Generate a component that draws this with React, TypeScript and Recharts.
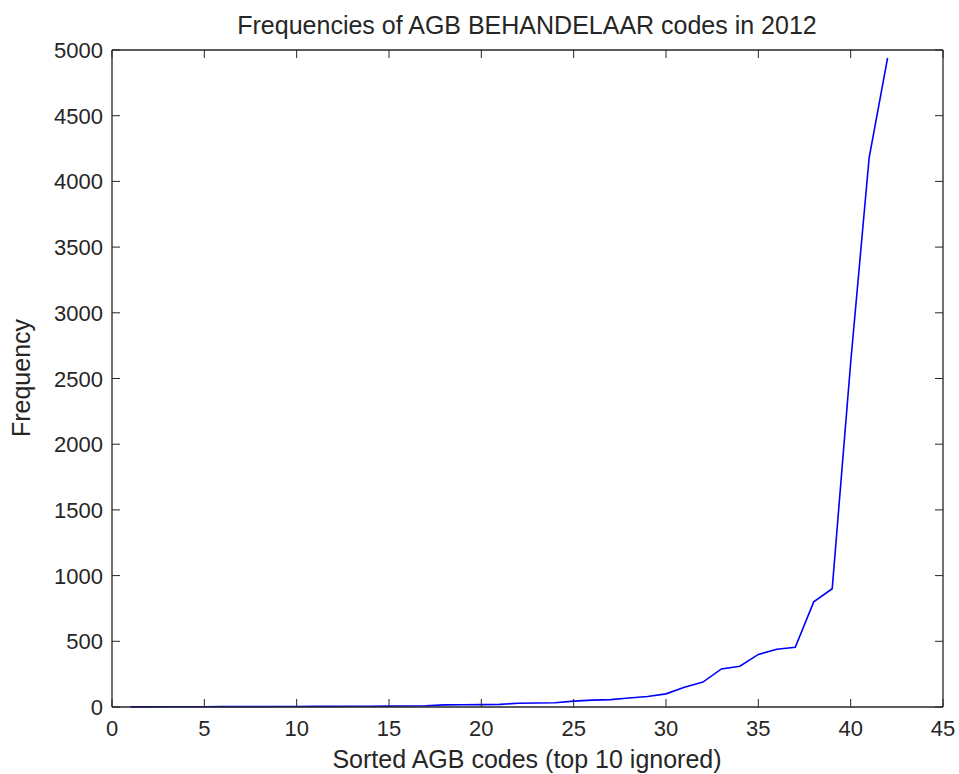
import { LineChart, Line, XAxis, YAxis } from 'recharts';

// sorted code index (top 10 removed) and how often each code occurs
const codeRank = [
  1, 2, 3, 4, 5, 6, 7, 8, 9, 10, 11, 12, 13, 14, 15, 16, 17, 18, 19, 20, 21,
  22, 23, 24, 25, 26, 27, 28, 29, 30, 31, 32, 33, 34, 35, 36, 37, 38, 39, 40, 41, 42,
];
const frequency = [
  1, 1, 2, 2, 2, 3, 3, 3, 4, 4, 5, 5, 6, 6, 7, 8, 9, 16, 17, 18, 20,
  28, 30, 32, 45, 52, 56, 68, 80, 100, 150, 190, 290, 310, 400, 440, 455, 800, 900, 2620, 4180, 4940,
];
const xTicks = [0, 5, 10, 15, 20, 25, 30, 35, 40, 45];
const yTicks = [0, 500, 1000, 1500, 2000, 2500, 3000, 3500, 4000, 4500, 5000];

const data = codeRank.map((rank, i) => ({ rank, freq: frequency[i] }));

const FONT = '"Liberation Sans", Arial, sans-serif';
const AXIS = '#262626';
const TICK_LEN = 8;

const BottomTick = ({ x, y, payload }: any) => (
  <g>
    <line x1={x} x2={x} y1={y} y2={y - TICK_LEN} stroke={AXIS} strokeWidth={1} />
    <text x={x} y={y + 29} textAnchor="middle" fill={AXIS} fontSize={22} fontFamily={FONT}>
      {payload.value}
    </text>
  </g>
);

const TopTick = ({ x, y }: any) => (
  <line x1={x} x2={x} y1={y} y2={y + TICK_LEN} stroke={AXIS} strokeWidth={1} />
);

const LeftTick = ({ x, y, payload }: any) => (
  <g>
    <line x1={x} x2={x + TICK_LEN} y1={y} y2={y} stroke={AXIS} strokeWidth={1} />
    <text x={x - 9} y={y + 8} textAnchor="end" fill={AXIS} fontSize={22} fontFamily={FONT}>
      {payload.value}
    </text>
  </g>
);

const RightTick = ({ x, y }: any) => (
  <line x1={x} x2={x - TICK_LEN} y1={y} y2={y} stroke={AXIS} strokeWidth={1} />
);

export default function App() {
  return (
    <div style={{ position: 'absolute', left: 0, top: 0, width: 959, height: 774, background: '#fff' }}>
      <LineChart
        width={959}
        height={774}
        data={data}
        margin={{ top: 49, right: 15, left: 0, bottom: 0 }}
      >
        <text x={527} y={34} textAnchor="middle" fill={AXIS} fontSize={25} fontFamily={FONT}>
          Frequencies of AGB BEHANDELAAR codes in 2012
        </text>
        <text
          x={30}
          y={378}
          textAnchor="middle"
          fill={AXIS}
          fontSize={25}
          fontFamily={FONT}
          transform="rotate(-90 30 378)"
        >
          Frequency
        </text>
        <text x={527} y={768} textAnchor="middle" fill={AXIS} fontSize={25} fontFamily={FONT}>
          Sorted AGB codes (top 10 ignored)
        </text>
        <XAxis
          xAxisId="bottom"
          dataKey="rank"
          type="number"
          domain={[0, 45]}
          ticks={xTicks}
          height={67}
          tickSize={0}
          tickMargin={0}
          tickLine={false}
          tick={<BottomTick />}
          axisLine={{ stroke: AXIS, strokeWidth: 1.3 }}
          interval={0}
        />
        <XAxis
          xAxisId="top"
          orientation="top"
          dataKey="rank"
          type="number"
          domain={[0, 45]}
          ticks={xTicks}
          height={1}
          tickSize={0}
          tickMargin={0}
          tickLine={false}
          tick={<TopTick />}
          axisLine={{ stroke: AXIS, strokeWidth: 1.3 }}
          interval={0}
        />
        <YAxis
          yAxisId="left"
          type="number"
          domain={[0, 5000]}
          ticks={yTicks}
          width={112}
          tickSize={0}
          tickMargin={0}
          tickLine={false}
          tick={<LeftTick />}
          axisLine={{ stroke: AXIS, strokeWidth: 1.3 }}
          interval={0}
        />
        <YAxis
          yAxisId="right"
          orientation="right"
          type="number"
          domain={[0, 5000]}
          ticks={yTicks}
          width={1}
          tickSize={0}
          tickMargin={0}
          tickLine={false}
          tick={<RightTick />}
          axisLine={{ stroke: AXIS, strokeWidth: 1.3 }}
          interval={0}
        />
        {/* invisible copy so the top/right frame axes get drawn */}
        <Line
          xAxisId="top"
          yAxisId="right"
          type="linear"
          dataKey="freq"
          stroke="none"
          dot={false}
          activeDot={false}
          isAnimationActive={false}
        />
        <Line
          xAxisId="bottom"
          yAxisId="left"
          type="linear"
          dataKey="freq"
          stroke="#0000ff"
          strokeWidth={1.6}
          dot={false}
          isAnimationActive={false}
        />
      </LineChart>
    </div>
  );
}
